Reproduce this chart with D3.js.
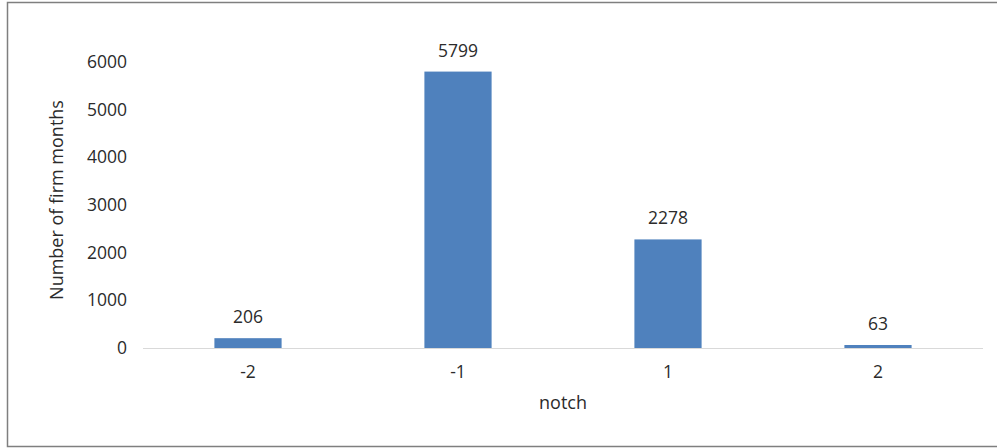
<!DOCTYPE html>
<html>
<head>
<meta charset="utf-8">
<script src="https://cdn.jsdelivr.net/npm/d3@7"></script>
<style>
  html, body { margin: 0; padding: 0; background: #fff; }
  svg text { font-family: "Open Sans", "Liberation Sans", sans-serif; fill: #2b2b2b; }
</style>
</head>
<body>
<svg id="chart" width="997" height="448"></svg>
<script>
// Rating-change notches and number of firm months at each
const notches = ["-2", "-1", "1", "2"];
const firmMonths = [206, 5799, 2278, 63];
const yTicks = [0, 1000, 2000, 3000, 4000, 5000, 6000];
const xTitle = "notch";
const yTitle = "Number of firm months";

const svg = d3.select("#chart");
const W = 997, H = 448;
const plot = { left: 143, right: 983, top: 62, bottom: 348 };
const textColor = "#2b2b2b";

// chart frame
svg.append("rect")
  .attr("x", 7.5).attr("y", 2.5)
  .attr("width", W + 10).attr("height", H - 4)
  .attr("fill", "none").attr("stroke", "#7f7f7f").attr("stroke-width", 1.5);

const x = d3.scaleBand().domain(notches).range([plot.left, plot.right]).paddingInner(0.68).paddingOuter(0.34);
const y = d3.scaleLinear().domain([0, 6000]).range([plot.bottom, plot.top]);

// y axis tick labels (no line)
const yAxis = svg.append("g")
  .attr("transform", `translate(${plot.left - 16},0)`)
  .call(d3.axisLeft(y).tickValues(yTicks).tickSize(0).tickPadding(0).tickFormat(d3.format("d")));
yAxis.select(".domain").remove();
yAxis.selectAll("text").attr("font-size", 17.5).attr("fill", textColor)
  .style("font-family", '"Open Sans", sans-serif');

// bars
svg.append("g").selectAll("rect")
  .data(notches)
  .join("rect")
  .attr("x", d => x(d))
  .attr("width", x.bandwidth())
  .attr("y", (d, i) => y(firmMonths[i]))
  .attr("height", (d, i) => y(0) - y(firmMonths[i]))
  .attr("fill", "#4f81bd");

// x axis baseline and labels
const xAxis = svg.append("g")
  .attr("transform", `translate(0,${plot.bottom})`)
  .call(d3.axisBottom(x).tickSize(0).tickPadding(18));
xAxis.select(".domain").attr("stroke", "#d9d9d9").attr("stroke-width", 1.2)
  .attr("d", `M${plot.left},0.5H${plot.right}`);
xAxis.selectAll("text").attr("font-size", 17.5).attr("fill", textColor)
  .style("font-family", '"Open Sans", sans-serif');

// value labels
svg.append("g").selectAll("text")
  .data(notches)
  .join("text")
  .attr("x", d => x(d) + x.bandwidth() / 2)
  .attr("y", (d, i) => y(firmMonths[i]) - 15)
  .attr("text-anchor", "middle")
  .attr("font-size", 17.5)
  .text((d, i) => firmMonths[i]);

// axis titles
svg.append("text")
  .attr("x", (plot.left + plot.right) / 2).attr("y", 409)
  .attr("text-anchor", "middle").attr("font-size", 18)
  .text(xTitle);

svg.append("text")
  .attr("transform", `translate(63,200) rotate(-90)`)
  .attr("text-anchor", "middle").attr("font-size", 18)
  .text(yTitle);
</script>
</body>
</html>
